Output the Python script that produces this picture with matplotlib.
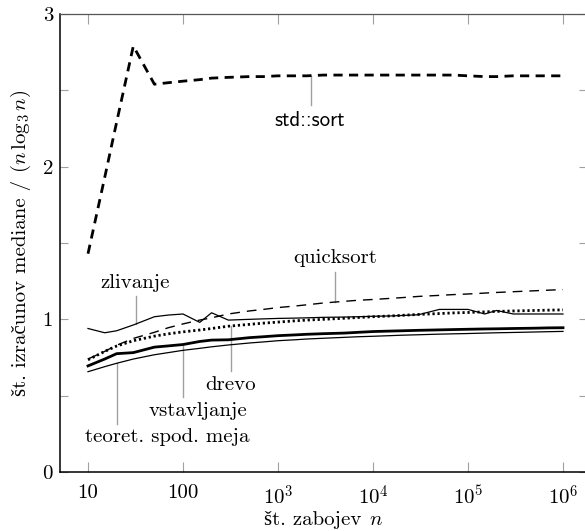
import numpy as np
import matplotlib
matplotlib.use('Agg')
import matplotlib.pyplot as plt
from matplotlib.ticker import FixedLocator, FixedFormatter, NullFormatter

# ---------------- data ----------------
n = [10, 15, 20, 30, 50, 70, 100, 150, 200, 300, 500, 700,
     1e3, 1.5e3, 2e3, 3e3, 5e3, 7e3, 1e4, 1.5e4, 2e4, 3e4, 5e4, 7e4,
     1e5, 1.5e5, 2e5, 3e5, 5e5, 7e5, 1e6]

std_sort = [1.43, 1.93, 2.29, 2.79, 2.54, 2.55, 2.56, 2.57, 2.58, 2.585, 2.59, 2.59,
            2.595, 2.595, 2.595, 2.60, 2.60, 2.60, 2.60, 2.60, 2.60, 2.60, 2.60, 2.60,
            2.595, 2.59, 2.59, 2.595, 2.595, 2.595, 2.595]

quicksort = [0.74, 0.79, 0.83, 0.875, 0.915, 0.945, 0.97, 0.995, 1.01, 1.035, 1.055, 1.065,
             1.077, 1.087, 1.095, 1.107, 1.118, 1.125, 1.13, 1.137, 1.142, 1.15, 1.157, 1.162,
             1.166, 1.172, 1.176, 1.181, 1.187, 1.191, 1.195]

drevo = [0.735, 0.79, 0.825, 0.86, 0.89, 0.905, 0.918, 0.93, 0.94, 0.955, 0.967, 0.975,
         0.982, 0.99, 0.995, 1.0, 1.007, 1.012, 1.017, 1.022, 1.026, 1.032, 1.038, 1.042,
         1.045, 1.049, 1.052, 1.055, 1.058, 1.06, 1.062]

zlivanje = [0.94, 0.912, 0.925, 0.963, 1.017, 1.028, 1.035, 0.98, 1.043, 0.995, 1.0, 1.003,
            1.006, 1.008, 1.01, 1.013, 1.015, 1.017, 1.02, 1.022, 1.025, 1.03, 1.065, 1.065,
            1.065, 1.035, 1.058, 1.035, 1.035, 1.035, 1.035]

vstavljanje = [0.695, 0.74, 0.775, 0.782, 0.818, 0.826, 0.835, 0.855, 0.864, 0.866, 0.88, 0.886,
               0.893, 0.898, 0.902, 0.906, 0.91, 0.915, 0.92, 0.923, 0.925, 0.928, 0.931, 0.933,
               0.935, 0.937, 0.938, 0.94, 0.942, 0.944, 0.945]

teoret = [0.657, 0.69, 0.712, 0.74, 0.768, 0.782, 0.797, 0.81, 0.82, 0.832, 0.845, 0.852,
          0.86, 0.866, 0.871, 0.876, 0.882, 0.886, 0.889, 0.893, 0.896, 0.899, 0.903, 0.905,
          0.907, 0.91, 0.912, 0.914, 0.917, 0.919, 0.921]

xticks = [10, 100, 1e3, 1e4, 1e5, 1e6]
xticklabels = ['10', '100', r'$10^{3}$', r'$10^{4}$', r'$10^{5}$', r'$10^{6}$']
yticks = [0, 1, 2, 3]
yticklabels = ['0', '1', '2', '3']
yminor = [0.5, 1.5, 2.5]

# axis titles, as (plain text part, math part)
xlabel_parts = ['št. zabojev', r'$n$']
ylabel_parts = ['št. izračunov mediane /', r'$(n\,\log_3 n)$']

# ---------------- style ----------------
plt.rcParams['font.family'] = ['cmr10', 'Liberation Serif']
plt.rcParams['mathtext.fontset'] = 'cm'
plt.rcParams['axes.unicode_minus'] = False
plt.rcParams['font.size'] = 15

W, H = 585, 531
fig = plt.figure(figsize=(W / 100, H / 100), dpi=100)
L, R, T, B = 60, 587, 14, 472
ax = fig.add_axes([L / W, (H - B) / H, (R - L) / W, (B - T) / H])

ax.set_xscale('log')
ax.set_xlim(10 ** 0.7053, 10 ** 6.2526)
ax.set_ylim(0, 3)

ax.plot(n, teoret, color='black', lw=0.9)
ax.plot(n, vstavljanje, color='black', lw=2.0)
ax.plot(n, zlivanje, color='black', lw=0.9)
ax.plot(n, drevo, color='black', lw=2.0, linestyle=(0, (0.8, 1.0)))
ax.plot(n, quicksort, color='black', lw=1.0, linestyle=(0, (7, 5)))
ax.plot(n, std_sort, color='black', lw=2.0, linestyle=(0, (3.3, 2.3)))

# ticks
ax.xaxis.set_major_locator(FixedLocator(xticks))
ax.xaxis.set_major_formatter(FixedFormatter(xticklabels))
ax.xaxis.set_minor_locator(FixedLocator([]))
ax.yaxis.set_major_locator(FixedLocator(yticks))
ax.yaxis.set_major_formatter(FixedFormatter(yticklabels))
ax.yaxis.set_minor_locator(FixedLocator(yminor))
ax.yaxis.set_minor_formatter(NullFormatter())
ax.tick_params(axis='x', which='both', direction='in', length=7.5, width=0.8,
               color='#a0a0a0', top=True, pad=9)
ax.tick_params(axis='y', which='both', direction='in', length=6, width=0.8,
               color='#a0a0a0', right=True, pad=5)

for s in ['left', 'bottom']:
    ax.spines[s].set_color('black')
    ax.spines[s].set_linewidth(1.1)
for s in ['top', 'right']:
    ax.spines[s].set_color('#555555')
    ax.spines[s].set_linewidth(0.9)

# annotations: (text, series, leader n, leader end y, text n, text y, family)
gray = '#a0a0a0'
annots = [
    ('std::sort', std_sort, 2220, 2.403, 2170, 2.305, 'cmss10'),
    ('quicksort', quicksort, 3980, 1.31, 3980, 1.40, None),
    ('zlivanje', zlivanje, 32, 1.153, 31.6, 1.238, None),
    ('drevo', drevo, 318, 0.663, 318, 0.570, None),
    ('vstavljanje', vstavljanje, 100, 0.493, 144, 0.401, None),
    ('teoret. spod. meja', teoret, 20, 0.314, 68, 0.231, None),
]
logn = np.log10(n)
for txt, ser, lx, ly1, tx, ty, fam in annots:
    ly0 = np.interp(np.log10(lx), logn, ser)
    ax.plot([lx, lx], [ly0, ly1], color=gray, lw=1.0, zorder=1)
    kw = {}
    if fam:
        kw['fontfamily'] = fam
    ax.text(tx, ty, txt, ha='center', va='center', **kw)


# axis titles composed of a plain-text part and a math part
def place_parts(parts, cx, cy, rotation=0, gap=7):
    """cx, cy: centre point on the baseline, in figure pixels (from bottom-left)."""
    fig.canvas.draw()
    r = fig.canvas.get_renderer()
    widths = []
    for s in parts:
        t = fig.text(0, 0, s)
        widths.append(t.get_window_extent(r).width)
        t.remove()
    total = sum(widths) + gap * (len(parts) - 1)
    pos = -total / 2
    for s, w in zip(parts, widths):
        if rotation == 0:
            x, y = cx + pos, cy
        else:
            x, y = cx, cy + pos
        fig.text(x / W, y / H, s, ha='left', va='baseline', rotation=rotation,
                 rotation_mode='anchor')
        pos += w + gap


place_parts(xlabel_parts, (L + R) / 2, H - 525)
place_parts(ylabel_parts, 26, H - (T + B) / 2, rotation=90)

fig.savefig('out.png', dpi=100)
